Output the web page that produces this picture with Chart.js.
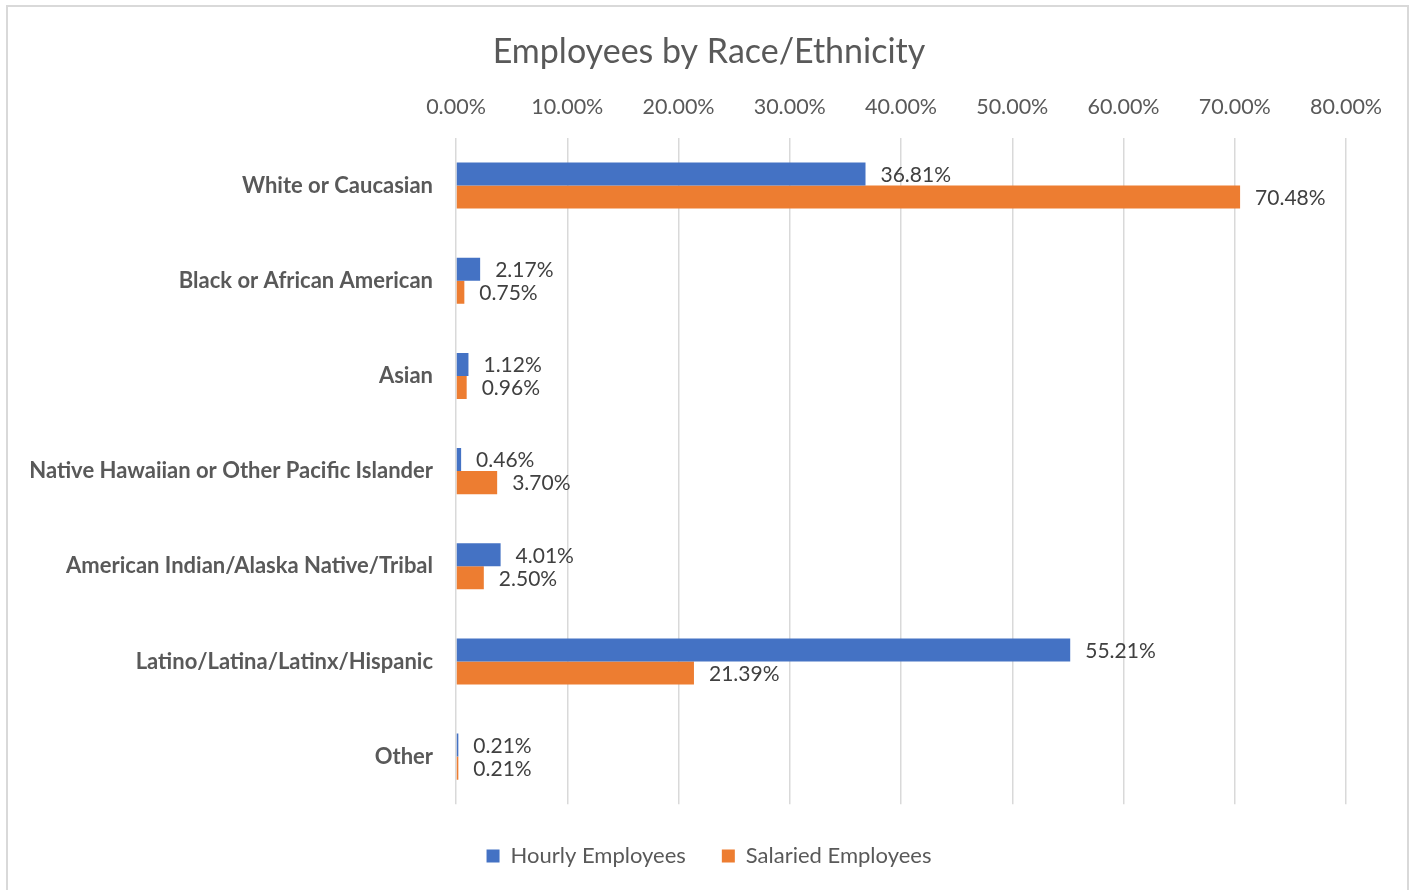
<!DOCTYPE html>
<html>
<head>
<meta charset="utf-8">
<script src="https://cdn.jsdelivr.net/npm/chart.js@4.4.1/dist/chart.umd.min.js"></script>
<style>
  html, body { margin: 0; padding: 0; background: #ffffff; overflow: hidden; }
  #wrap { position: absolute; left: 0; top: 0; width: 1411px; height: 890px; }
  #frame { position: absolute; left: 6px; top: 5px; width: 1403px; height: 900px; border: 2px solid #d9d9d9; box-sizing: border-box; pointer-events: none; }
</style>
</head>
<body>
<div id="wrap"><canvas id="c" width="1411" height="890"></canvas></div>
<div id="frame"></div>
<script>
const chartTitle = 'Employees by Race/Ethnicity';
const categories = [
  'White or Caucasian',
  'Black or African American',
  'Asian',
  'Native Hawaiian or Other Pacific Islander',
  'American Indian/Alaska Native/Tribal',
  'Latino/Latina/Latinx/Hispanic',
  'Other'
];
const seriesNames = ['Hourly Employees', 'Salaried Employees'];
const hourlyValues = [36.81, 2.17, 1.12, 0.46, 4.01, 55.21, 0.21];
const salariedValues = [70.48, 0.75, 0.96, 3.70, 2.50, 21.39, 0.21];
const tickValues = [0, 10, 20, 30, 40, 50, 60, 70, 80];

const FONT = 'Lato, "Open Sans", sans-serif';

const dataLabels = {
  id: 'dataLabels',
  afterDatasetsDraw(chart) {
    const ctx = chart.ctx;
    ctx.save();
    ctx.font = '21px ' + FONT;
    ctx.fillStyle = '#404040';
    ctx.textAlign = 'left';
    ctx.textBaseline = 'middle';
    chart.data.datasets.forEach((ds, di) => {
      const meta = chart.getDatasetMeta(di);
      meta.data.forEach((el, i) => {
        ctx.fillText(ds.data[i].toFixed(2) + '%', el.x + 15, el.y + 1);
      });
    });
    ctx.restore();
  }
};

new Chart(document.getElementById('c'), {
  type: 'bar',
  data: {
    labels: categories,
    datasets: [
      { label: seriesNames[0], data: hourlyValues, backgroundColor: '#4472C4', categoryPercentage: 0.484, barPercentage: 1.0 },
      { label: seriesNames[1], data: salariedValues, backgroundColor: '#ED7D31', categoryPercentage: 0.484, barPercentage: 1.0 }
    ]
  },
  options: {
    indexAxis: 'y',
    responsive: false,
    animation: false,
    devicePixelRatio: 1,
    layout: { padding: { left: 7, right: 0, top: 0, bottom: 13 } },
    scales: {
      x: {
        position: 'top',
        min: 0,
        max: 80,
        afterBuildTicks(scale) { scale.ticks = tickValues.map(v => ({ value: v })); },
        ticks: {
          color: '#595959',
          font: { family: FONT, size: 21.5 },
          padding: 18,
          callback: (v) => Number(v).toFixed(2) + '%'
        },
        grid: { color: '#d9d9d9', lineWidth: 1.5, drawTicks: false },
        border: { display: false }
      },
      y: {
        position: 'left',
        afterFit(scale) { scale.width = 449; },
        ticks: {
          color: '#595959',
          font: { family: FONT, size: 22, weight: 'bold' },
          padding: 23
        },
        grid: { display: false, drawTicks: false },
        border: { display: false }
      },
      yRight: {
        position: 'right',
        type: 'linear',
        display: true,
        afterFit(scale) { scale.width = 65; },
        ticks: { display: false },
        grid: { display: false, drawTicks: false },
        border: { display: false }
      }
    },
    plugins: {
      title: {
        display: true,
        text: chartTitle,
        color: '#595959',
        font: { family: FONT, size: 34, weight: 'normal' },
        padding: { top: 31.6, bottom: 3.8 }
      },
      legend: {
        display: true,
        position: 'bottom',
        title: { display: true, text: ' ', font: { size: 4 }, padding: 0 },
        labels: {
          color: '#595959',
          font: { family: FONT, size: 22 },
          boxWidth: 13,
          boxHeight: 13,
          padding: 36
        }
      },
      tooltip: { enabled: false }
    }
  },
  plugins: [dataLabels]
});
</script>
</body>
</html>
